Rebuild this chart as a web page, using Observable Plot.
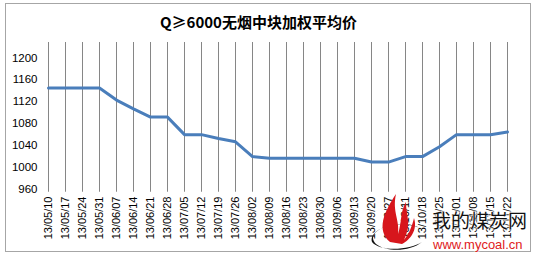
<!DOCTYPE html>
<html>
<head>
<meta charset="utf-8">
<script src="https://cdn.jsdelivr.net/npm/d3@7"></script>
<script src="https://cdn.jsdelivr.net/npm/@observablehq/plot@0.6"></script>
<style>
  html, body { margin: 0; padding: 0; background: #fff; }
  #frame {
    position: absolute; left: 5px; top: 3px; width: 526px; height: 249px;
    border: 1px solid #a6a6a6; box-sizing: border-box; background: #fff;
  }
  #title {
    position: absolute; left: 0; top: 11px; width: 517px; text-align: center;
    font: bold 15px "Noto Sans CJK SC", sans-serif; color: #000;
  }
  #chart { position: absolute; left: 0; top: 0; }
  #logo { position: absolute; left: 366px; top: 190px; }
  .mark-text {
    position: absolute; white-space: nowrap; line-height: 1;
    text-shadow: 0 0 2px #fff, 0 0 2px #fff, 0 0 3px #fff;
  }
  #site-cn { left: 432px; top: 210px; font-size: 19px; font-family: "Noto Sans CJK SC", sans-serif; color: #111; }
  #site-url { left: 433px; top: 238px; font-size: 13px; font-family: "Liberation Sans", sans-serif; color: #e0201b; }
</style>
</head>
<body>
<div id="frame"></div>
<div id="title">Q≥6000无烟中块加权平均价</div>
<div id="chart"></div>
<svg id="logo" width="70" height="66" viewBox="0 0 70 66">
  <path d="M6,52 C2,40 30,28 54,38 C44,32 20,32 10,42 C6,46 6,50 10,54 C20,62 44,62 56,52 C44,60 14,62 6,52 Z" fill="#111"/>
  <path d="M24,52 C10,40 18,22 30,4 C26,22 34,30 32,44 C36,32 34,22 40,12 C40,26 46,34 38,50 C44,42 46,36 48,28 C52,40 44,50 36,54 Z" fill="#d7161c"/>
</svg>
<div id="site-cn" class="mark-text">我的煤炭网</div>
<div id="site-url" class="mark-text">www.mycoal.cn</div>
<script>
// weekly dates (yy/mm/dd)
const dates = [
  "13/05/10", "13/05/17", "13/05/24", "13/05/31", "13/06/07", "13/06/14", "13/06/21",
  "13/06/28", "13/07/05", "13/07/12", "13/07/19", "13/07/26", "13/08/02", "13/08/09",
  "13/08/16", "13/08/23", "13/08/30", "13/09/06", "13/09/13", "13/09/20", "13/09/27",
  "13/10/11", "13/10/18", "13/10/25", "13/11/01", "13/11/08", "13/11/15", "13/11/22"
];
// weighted average price
const prices = [
  1145, 1145, 1145, 1145, 1123, 1107, 1092,
  1092, 1060, 1060, 1053, 1047, 1020, 1017,
  1017, 1017, 1017, 1017, 1017, 1010, 1010,
  1020, 1020, 1038, 1060, 1060, 1060, 1065
];
const yTicks = [960, 1000, 1040, 1080, 1120, 1160, 1200];

const data = dates.map((d, i) => ({date: d, price: prices[i]}));

const chart = Plot.plot({
  width: 541,
  height: 262,
  marginLeft: 45,
  marginRight: 31,
  marginTop: 42,
  marginBottom: 73,
  style: {fontFamily: "'Liberation Sans', sans-serif", fontSize: "11px", color: "#000", background: "transparent"},
  x: {type: "point", domain: dates, padding: 0, label: null},
  y: {domain: [960, 1228], ticks: yTicks, label: null},
  marks: [
    Plot.gridY(yTicks, {stroke: "#868686", strokeOpacity: 1, strokeWidth: 1, x1: -4}),
    Plot.gridX(dates, {stroke: "#868686", strokeOpacity: 1, strokeWidth: 1, y2: 955}),
    Plot.axisY(yTicks, {tickSize: 0, tickPadding: 8, fontSize: 11.5, tickFormat: d => String(d)}),
    Plot.axisX(dates, {tickSize: 0, tickRotate: -90, tickPadding: 7, fontSize: 11}),
    Plot.line(data, {x: "date", y: "price", stroke: "#4a7ebb", strokeWidth: 3, strokeLinejoin: "round"})
  ]
});
document.getElementById("chart").appendChild(chart);
</script>
</body>
</html>
